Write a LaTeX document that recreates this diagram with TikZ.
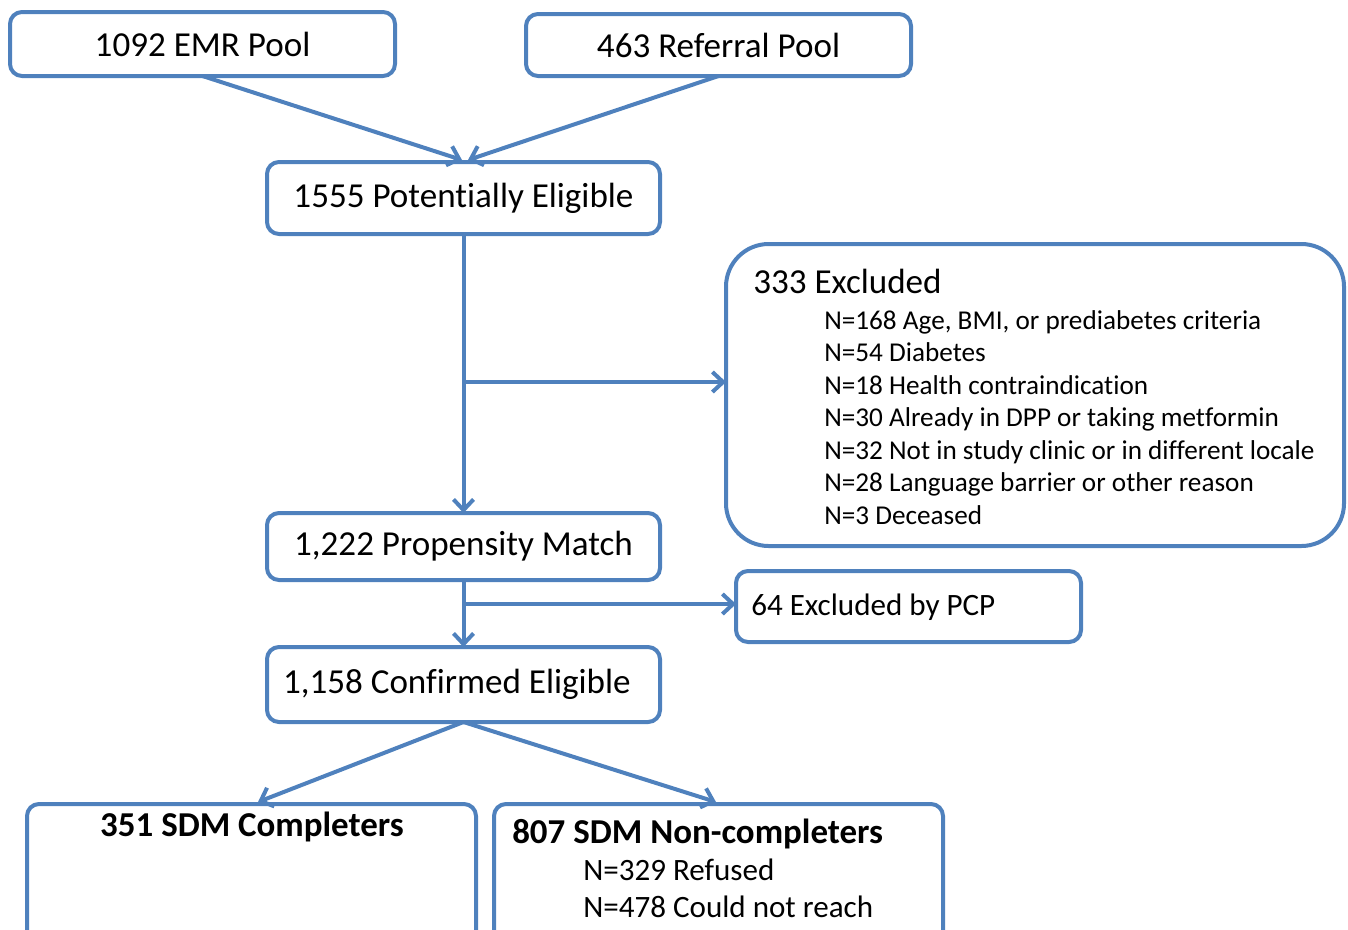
\documentclass[tikz,border=0pt]{standalone}
\usepackage{fontspec}
\setmainfont{Carlito}[Ligatures=NoCommon]
\usetikzlibrary{arrows.meta}
\definecolor{bl}{RGB}{79,129,189}
\begin{document}
\begin{tikzpicture}[x=0.75pt,y=-0.75pt,
  box/.style={draw=bl, line width=3pt, rounded corners=9pt, inner sep=0pt, outer sep=0pt},
  sz/.style 2 args={minimum width=#1*0.75pt, minimum height=#2*0.75pt},
  arr/.style={draw=bl, line width=3pt, -{Straight Barb[length=8pt,width=15pt]}},
  big/.style={font=\fontsize{26.3}{30}\selectfont},
  bigb/.style={font=\fontsize{26.2}{30}\selectfont\bfseries, inner sep=0pt, anchor=base west},
  item/.style={font=\fontsize{20.4}{25}\selectfont, anchor=base west, inner sep=0pt},
  itemb/.style={font=\fontsize{23.3}{28}\selectfont, anchor=base west, inner sep=0pt}]
\useasboundingbox (0,0) rectangle (1348,929);

% boxes
\node[box, big, sz={385}{64}] (emr) at (202.5,44) {1092 EMR Pool};
\node[box, big, sz={385}{62}] (ref) at (718.5,45) {463 Referral Pool};
\node[box, big, sz={393}{72}] (pe) at (463.5,198) {1555 Potentially Eligible};
\node[box, rounded corners=32pt, sz={618}{302}] (ex) at (1035,395) {};
\node[box, big, sz={393}{67}] (pm) at (463.5,546.5) {1,222 Propensity Match};
\node[box, sz={345}{71}] (pcp) at (908.5,606.5) {};
\node[box, big, sz={393}{75}] (ce) at (463.5,684.5) {\hspace*{-10pt}1,158 Confirmed Eligible};
\node[box, sz={449}{146}] (sc) at (251.5,877) {};
\node[box, sz={449}{146}] (snc) at (718.5,877) {};

% texts
\node[big, anchor=base west, inner sep=0pt] (ext) at (753,293) {333 Excluded};
\node[item] (e1) at (824,329) {N=168 Age, BMI, or prediabetes criteria};
\node[item] (e2) at (824,361.5) {N=54 Diabetes};
\node[item] (e3) at (824,394) {N=18 Health contraindication};
\node[item] (e4) at (824,426.5) {N=30 Already in DPP or taking metformin};
\node[item] (e5) at (824,459) {N=32 Not in study clinic or in different locale};
\node[item] (e6) at (824,491.5) {N=28 Language barrier or other reason};
\node[item] (e7) at (824,524) {N=3 Deceased};
\node[font=\fontsize{23.3}{28}\selectfont, anchor=west, inner sep=0pt] (pcpt) at (751,607) {64 Excluded by PCP};
\node[bigb, anchor=base] (sct) at (252,836) {351 SDM Completers};
\node[bigb] (snct) at (512,843) {807 SDM Non-completers};
\node[itemb] (n1) at (583,880) {N=329 Refused};
\node[itemb] (n2) at (583,917) {N=478 Could not reach};

% connectors
\coordinate (t1) at (462,160);
\coordinate (t2) at (468,160);
\draw[arr] (emr.south) -- (t1);
\draw[arr] (ref.south) -- (t2);
\draw[arr] (pe.south) -- (pm.north);
\coordinate (b1) at (464,382);
\draw[arr] (b1) -- (b1 -| ex.west);
\draw[arr] (pm.south) -- (ce.north);
\coordinate (b2) at (464,604);
\draw[arr] (b2) -- (b2 -| pcp.west);
\coordinate (d1) at (258,802);
\coordinate (d2) at (716,802);
\draw[arr] (ce.south) -- (d1);
\draw[arr] (ce.south) -- (d2);
\end{tikzpicture}
\end{document}
